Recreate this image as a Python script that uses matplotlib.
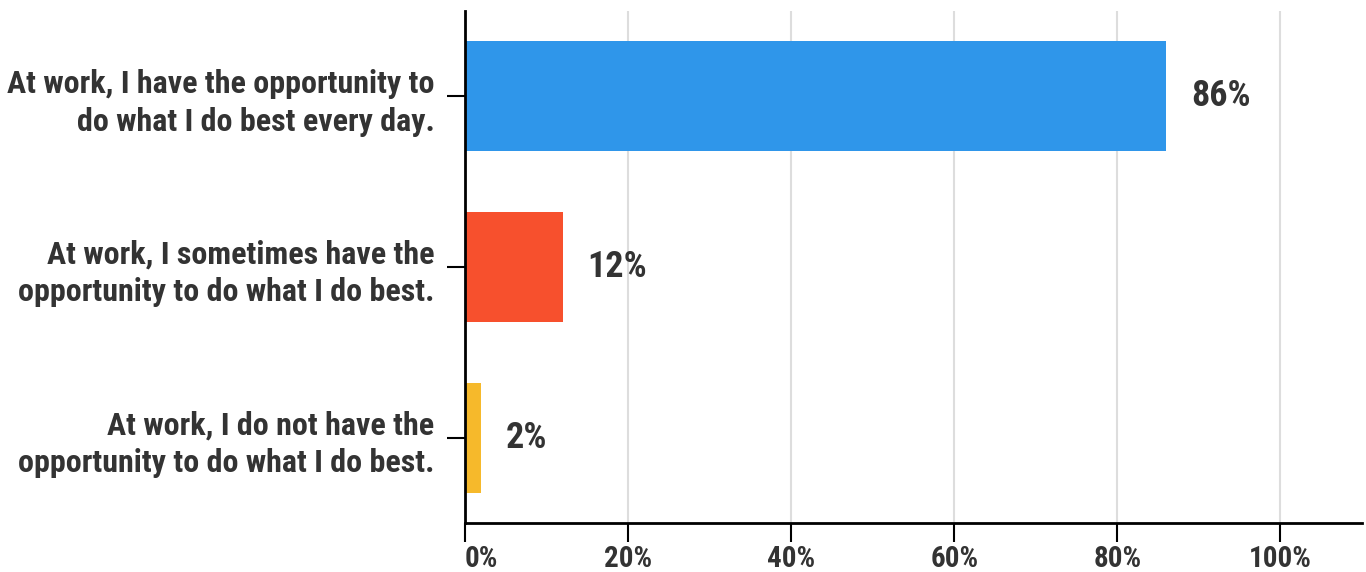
import matplotlib
matplotlib.use("Agg")
import matplotlib.pyplot as plt
from matplotlib import font_manager as fm

categories = [
    "At work, I have the opportunity to\ndo what I do best every day.",
    "At work, I sometimes have the\nopportunity to do what I do best.",
    "At work, I do not have the\nopportunity to do what I do best.",
]
values = [86, 12, 2]
colors = ["#2F96EA", "#F7502D", "#F6B92B"]
xticks = [0, 20, 40, 60, 80, 100]
xticklabels = ["0%", "20%", "40%", "60%", "80%", "100%"]

names = {f.name for f in fm.fontManager.ttflist}
family = "Roboto"
for cand in ["Roboto Condensed", "Liberation Sans Narrow", "Roboto"]:
    if cand in names:
        family = cand
        break
plt.rcParams["font.family"] = [family, "DejaVu Sans"]
txt = "#333333"

W, H = 1366, 572
fig = plt.figure(figsize=(W / 100, H / 100), dpi=100)
ax = fig.add_axes([465 / W, 1 - 523 / H, (1362 - 465) / W, (523 - 11) / H])

y = list(range(len(values)))
ax.barh(y, values, height=0.645, color=colors, zorder=3)
ax.set_ylim(2.5, -0.5)
ax.set_xlim(0, 110)

for i, v in enumerate(values):
    ax.text(v + 3.0, i, f"{v}%", va="center", ha="left", fontsize=26,
            fontweight="bold", color=txt)

ax.set_xticks(xticks)
ax.set_xticklabels(xticklabels, fontsize=21, fontweight="bold", color=txt)
labs = ax.get_xticklabels()
labs[0].set_horizontalalignment("left")
ax.set_yticks(y)
ax.set_yticklabels(categories, fontsize=23, fontweight="bold", color=txt,
                   linespacing=1.3)

for xv in xticks[1:]:
    ax.axvline(xv, color="#dddddd", lw=1.5, zorder=1)

for s in ["top", "right"]:
    ax.spines[s].set_visible(False)
ax.spines["left"].set_linewidth(2)
ax.spines["bottom"].set_linewidth(2)
ax.spines["left"].set_zorder(4)
ax.tick_params(axis="x", length=14, width=1.5, pad=2)
ax.tick_params(axis="y", length=13, width=1.5, pad=9)

fig.savefig("out.png", dpi=100)
